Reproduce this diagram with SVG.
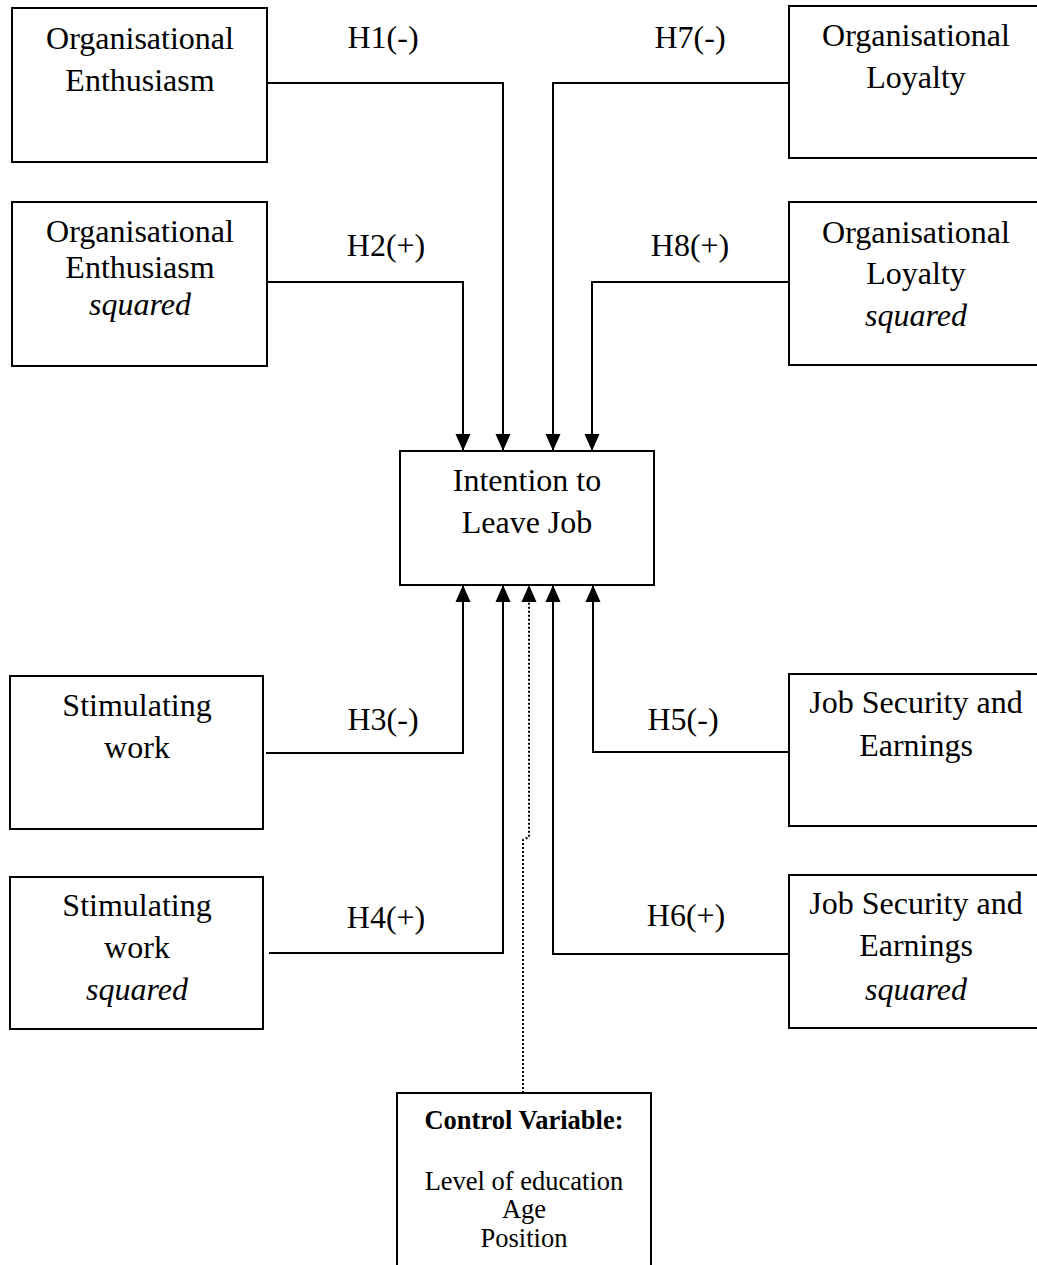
<svg xmlns="http://www.w3.org/2000/svg" width="1037" height="1265" viewBox="0 0 1037 1265">
<defs>
<marker id="arr" markerUnits="userSpaceOnUse" markerWidth="18" markerHeight="16" viewBox="0 0 18 16" refX="17" refY="8" orient="auto">
<path d="M0,0.5 L17,8 L0,15.5 z" fill="#000"/>
</marker>
<style>
.box{fill:#fff;stroke:#000;stroke-width:2}
.t{font-family:"Liberation Serif","Times New Roman",serif;font-size:32px;fill:#000;text-anchor:middle}
.i{font-style:italic}
.c{font-family:"Liberation Serif","Times New Roman",serif;font-size:26.5px;fill:#000;text-anchor:middle}
.b{font-weight:bold}
.ln{fill:none;stroke:#000;stroke-width:2}
.dot{fill:none;stroke:#000;stroke-width:2;stroke-dasharray:2,2}
</style>
</defs>
<rect width="1037" height="1265" fill="#fff"/>
<g id="connectors">
<path class="ln" d="M267,83 H503 V451" marker-end="url(#arr)"/>
<path class="ln" d="M267,282 H463 V451" marker-end="url(#arr)"/>
<path class="ln" d="M789,83 H553 V451" marker-end="url(#arr)"/>
<path class="ln" d="M789,282 H592 V451" marker-end="url(#arr)"/>
<path class="ln" d="M266,753 H463 V585" marker-end="url(#arr)"/>
<path class="ln" d="M269,953 H503 V585" marker-end="url(#arr)"/>
<path class="ln" d="M790,752 H593 V585" marker-end="url(#arr)"/>
<path class="ln" d="M788,954 H553 V585" marker-end="url(#arr)"/>
<path class="dot" d="M523,1093 V840 L529,837 V585" marker-end="url(#arr)"/>
<text class="t" x="383" y="48">H1(-)</text>
<text class="t" x="386" y="256">H2(+)</text>
<text class="t" x="690" y="48">H7(-)</text>
<text class="t" x="690" y="256">H8(+)</text>
<text class="t" x="383" y="730">H3(-)</text>
<text class="t" x="386" y="928">H4(+)</text>
<text class="t" x="683" y="730">H5(-)</text>
<text class="t" x="686" y="926">H6(+)</text>
</g>
<g id="org-enthusiasm">
<rect class="box" x="12" y="8" width="255" height="154"/>
<text class="t" x="140" y="49">Organisational</text>
<text class="t" x="140" y="91">Enthusiasm</text>
</g>
<g id="org-enthusiasm-squared">
<rect class="box" x="12" y="202" width="255" height="164"/>
<text class="t" x="140" y="242">Organisational</text>
<text class="t" x="140" y="278">Enthusiasm</text>
<text class="t i" x="140" y="315">squared</text>
</g>
<g id="org-loyalty">
<rect class="box" x="789" y="6" width="260" height="152"/>
<text class="t" x="916" y="46">Organisational</text>
<text class="t" x="916" y="88">Loyalty</text>
</g>
<g id="org-loyalty-squared">
<rect class="box" x="789" y="202" width="260" height="163"/>
<text class="t" x="916" y="243">Organisational</text>
<text class="t" x="916" y="284">Loyalty</text>
<text class="t i" x="916" y="326">squared</text>
</g>
<g id="intention">
<rect class="box" x="400" y="451" width="254" height="134"/>
<text class="t" x="527" y="491">Intention to</text>
<text class="t" x="527" y="533">Leave Job</text>
</g>
<g id="stimulating-work">
<rect class="box" x="10" y="676" width="253" height="153"/>
<text class="t" x="137" y="716">Stimulating</text>
<text class="t" x="137" y="758">work</text>
</g>
<g id="stimulating-work-squared">
<rect class="box" x="10" y="877" width="253" height="152"/>
<text class="t" x="137" y="916">Stimulating</text>
<text class="t" x="137" y="958">work</text>
<text class="t i" x="137" y="1000">squared</text>
</g>
<g id="job-security">
<rect class="box" x="789" y="674" width="260" height="152"/>
<text class="t" x="916" y="713">Job Security and</text>
<text class="t" x="916" y="756">Earnings</text>
</g>
<g id="job-security-squared">
<rect class="box" x="789" y="875" width="260" height="153"/>
<text class="t" x="916" y="914">Job Security and</text>
<text class="t" x="916" y="956">Earnings</text>
<text class="t i" x="916" y="1000">squared</text>
</g>
<g id="control-variable">
<rect class="box" x="397" y="1093" width="254" height="190"/>
<text class="c b" x="524" y="1129">Control Variable:</text>
<text class="c" x="524" y="1190">Level of education</text>
<text class="c" x="524" y="1218">Age</text>
<text class="c" x="524" y="1247">Position</text>
</g>
</svg>
